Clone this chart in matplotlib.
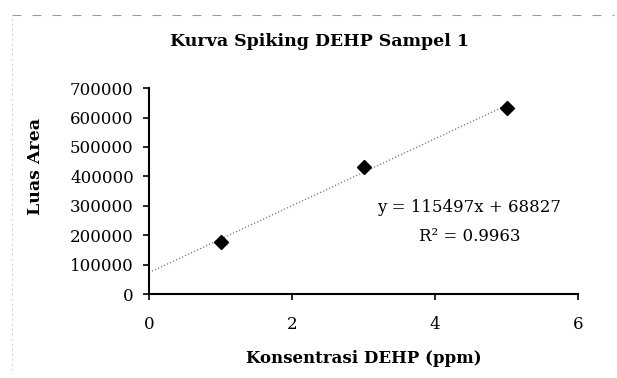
import numpy as np
import matplotlib.pyplot as plt
from matplotlib.lines import Line2D

# Data
konsentrasi = [1, 3, 5]  # ppm
luas_area = [178000, 431500, 633000]

x_ticks = [0, 2, 4, 6]
y_ticks = [0, 100000, 200000, 300000, 400000, 500000, 600000, 700000]

# the scan is stretched sideways, a wide serif font fits it better
plt.rcParams['font.family'] = ['DejaVu Serif']

fig = plt.figure(figsize=(6.17, 3.78), dpi=100)
ax = fig.add_axes([0.2415, 0.222, 0.6955, 0.545])

# linear trendline through the points, drawn from x = 0
slope, intercept = np.polyfit(konsentrasi, luas_area, 1)
xt = np.array([0, max(konsentrasi)])
ax.plot(xt, slope * xt + intercept, linestyle=':', color='#777777', linewidth=0.9)

ax.plot(konsentrasi, luas_area, linestyle='none', marker='D', markersize=7, color='black')

ax.set_xlim(0, 6)
ax.set_ylim(0, 700000)
ax.set_xticks(x_ticks)
ax.set_yticks(y_ticks)
ax.set_xticklabels([str(v) for v in x_ticks])
ax.set_yticklabels([str(v) for v in y_ticks])
ax.tick_params(direction='out', length=4, width=1.2, labelsize=12, colors='black')
ax.tick_params(axis='x', pad=12)
ax.tick_params(axis='y', pad=7)

for side in ['top', 'right']:
    ax.spines[side].set_visible(False)
for side in ['left', 'bottom']:
    ax.spines[side].set_linewidth(1.5)

ax.set_xlabel("Konsentrasi DEHP (ppm)", fontsize=12, fontweight='bold', labelpad=12)
ax.set_ylabel("Luas Area", fontsize=12.5, fontweight='bold')
ax.yaxis.set_label_coords(-0.245, 0.62)
fig.text(0.518, 0.89, "Kurva Spiking DEHP Sampel 1", fontsize=12.5, fontweight='bold',
         ha='center', va='center')

# equation of the trendline
ax.text(4.48, 294000, "y = 115497x + 68827", fontsize=12, ha='center', va='center')
ax.text(4.48, 196000, "R² = 0.9963", fontsize=12, ha='center', va='center')

# scanned chart border (top and left)
fig.add_artist(Line2D([0.02, 0.995], [0.96, 0.96], transform=fig.transFigure,
                      color='#999999', linewidth=0.8, linestyle=(0, (8, 10))))
fig.add_artist(Line2D([0.02, 0.02], [0.02, 0.96], transform=fig.transFigure,
                      color='#bbbbbb', linewidth=0.6, linestyle=(0, (2, 4))))

fig.savefig("out.png", dpi=100)
